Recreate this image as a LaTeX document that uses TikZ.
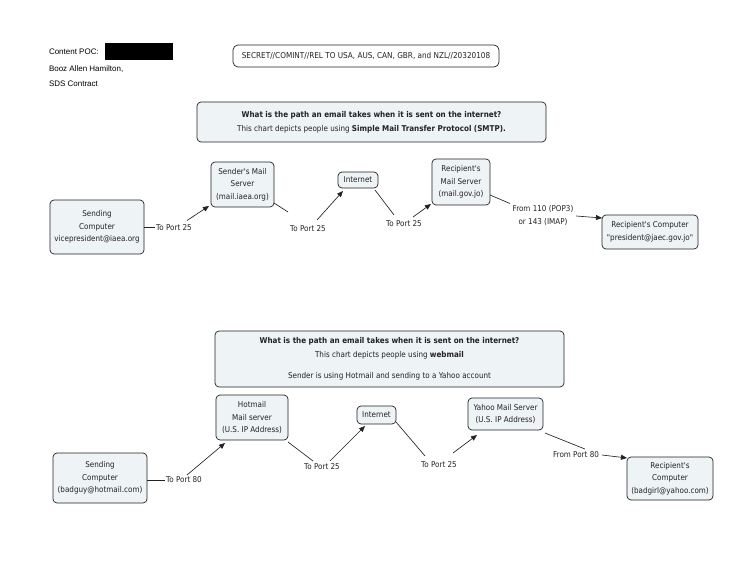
\documentclass[tikz,border=0pt]{standalone}
\usepackage{fontspec}
\setmainfont{Liberation Sans}
\newfontfamily\chartfont[FakeStretch=0.9]{DejaVu Sans}
\usetikzlibrary{arrows.meta,calc}
\definecolor{boxfill}{HTML}{EEF3F6}
\definecolor{ink}{HTML}{222222}
\begin{document}
\begin{tikzpicture}[x=1pt,y=-1pt,
  every node/.style={inner sep=0pt, outer sep=0pt},
  box/.style={draw=ink, line width=0.7pt, fill=boxfill, rounded corners=4pt, align=center,
    font=\chartfont\fontsize{8}{12.5}\selectfont, text=ink},
  banner/.style={box, font=\chartfont\fontsize{8}{14}\selectfont, minimum width=349pt},
  lbl/.style={align=center, font=\chartfont\fontsize{8}{13.5}\selectfont, text=ink, inner sep=1pt},
  conn/.style={draw=ink, line width=0.65pt},
  arr/.style={conn, -{Triangle[length=6pt,width=5pt]}},
  hdr/.style={font=\fontsize{8}{10}\selectfont, anchor=west, text=black}
]
\useasboundingbox (0,0) rectangle (755,583);
\fill[white] (0,0) rectangle (755,583);

% header
\node[hdr] (poc) at (49,51.5) {Content POC:};
\fill[black] (105,43) rectangle (173,60);
\node[hdr] (booz) at (49,69) {Booz Allen Hamilton,};
\node[hdr] (sds) at (49,84) {SDS Contract};

\node[draw=ink, line width=0.7pt, fill=white, rounded corners=5pt, minimum width=266pt, minimum height=22pt,
  font=\chartfont\fontsize{8.1}{9}\selectfont, text=ink] (cls) at (366,56)
  {SECRET//COMINT//REL TO USA, AUS, CAN, GBR, and NZL//20320108};

% ---------- chart 1 ----------
\node[banner, minimum height=40pt] (ban1) at (371.5,122)
  {\textbf{What is the path an email takes when it is sent on the internet?}\\
   This chart depicts people using \textbf{Simple Mail Transfer Protocol (SMTP).}};

\node[box, minimum width=94pt, minimum height=54pt] (sc1) at (97,227)
  {Sending\\Computer\\vicepresident@iaea.org};
\node[box, minimum width=63pt, minimum height=45pt] (sms1) at (242.5,184.5)
  {Sender's Mail\\Server\\(mail.iaea.org)};
\node[box, minimum width=40pt, minimum height=16pt] (inet1) at (358,180) {Internet};
\node[box, minimum width=58pt, minimum height=46pt] (rms1) at (461,182)
  {Recipient's\\Mail Server\\(mail.gov.jo)};
\node[box, minimum width=96pt, minimum height=34pt] (rc1) at (650,232)
  {Recipient's Computer\\"president@jaec.gov.jo"};

\node[lbl] (l1) at (174,227.5) {To Port 25};
\node[lbl] (l2) at (308,229) {To Port 25};
\node[lbl] (l3) at (404,224) {To Port 25};
\node[lbl] (l4) at (543,215.5) {From 110 (POP3)\\or 143 (IMAP)};

\draw[conn] (sc1.east |- l1.west) -- (l1.west);
\draw[arr] ($(l1.center)+(13,-7)$) -- ($(sms1.south west)+(-2,-1)$);
\draw[conn] ($(sms1.south east)+(0,-4)$) -- ($(l2.center)+(-20,-17)$);
\draw[arr] ($(l2.center)+(9,-9)$) -- ($(inet1.south west)+(5,3)$);
\draw[conn] ($(inet1.south east)+(-3,2)$) -- ($(l3.center)+(-10,-9)$);
\draw[arr] ($(l3.center)+(9,-7)$) -- ($(rms1.south west)+(-1,-1)$);
\draw[conn] ($(rms1.south east)+(0,-10)$) -- ($(l4.center)+(-33,-12)$);
\draw[arr] ($(l4.center)+(33,0.5)$) -- ($(rc1.north west)+(0,3)$);

% ---------- chart 2 ----------
\node[banner, minimum height=56pt] (ban2) at (389.5,359)
  {\textbf{What is the path an email takes when it is sent on the internet?}\\
   This chart depicts people using \textbf{webmail}\\[7pt]
   Sender is using Hotmail and sending to a Yahoo account};

\node[box, minimum width=94pt, minimum height=50pt] (sc2) at (100,478)
  {Sending\\Computer\\(badguy@hotmail.com)};
\node[box, minimum width=72pt, minimum height=45pt] (hm) at (252,417.5)
  {Hotmail\\Mail server\\(U.S. IP Address)};
\node[box, minimum width=39pt, minimum height=18pt] (inet2) at (376.5,415) {Internet};
\node[box, minimum width=75pt, minimum height=32pt] (yh) at (505.5,414)
  {Yahoo Mail Server\\(U.S. IP Address)};
\node[box, minimum width=86pt, minimum height=43pt] (rc2) at (670,478.5)
  {Recipient's\\Computer\\(badgirl@yahoo.com)};

\node[lbl] (m1) at (184,480) {To Port 80};
\node[lbl] (m2) at (322,467) {To Port 25};
\node[lbl] (m3) at (439,465) {To Port 25};
\node[lbl] (m4) at (576,455) {From Port 80};

\draw[conn] (sc2.east |- m1.west) -- (m1.west);
\draw[arr] ($(m1.center)+(3,-5)$) -- ($(hm.south west)+(9,3)$);
\draw[conn] ($(hm.south east)+(0,2)$) -- ($(m2.center)+(-9,-6)$);
\draw[arr] ($(m2.center)+(8,-6)$) -- ($(inet2.south west)+(8,2)$);
\draw[conn] ($(inet2.south east)+(0,-2)$) -- ($(m3.center)+(-14,-9)$);
\draw[arr] ($(m3.center)+(14,-12)$) -- ($(yh.south west)+(9,5)$);
\draw[conn] ($(yh.south east)+(2,3)$) -- ($(m4.center)+(9,-6)$);
\draw[arr] ($(m4.east)+(2,0)$) -- ($(rc2.north west)+(0,1)$);
\end{tikzpicture}
\end{document}
